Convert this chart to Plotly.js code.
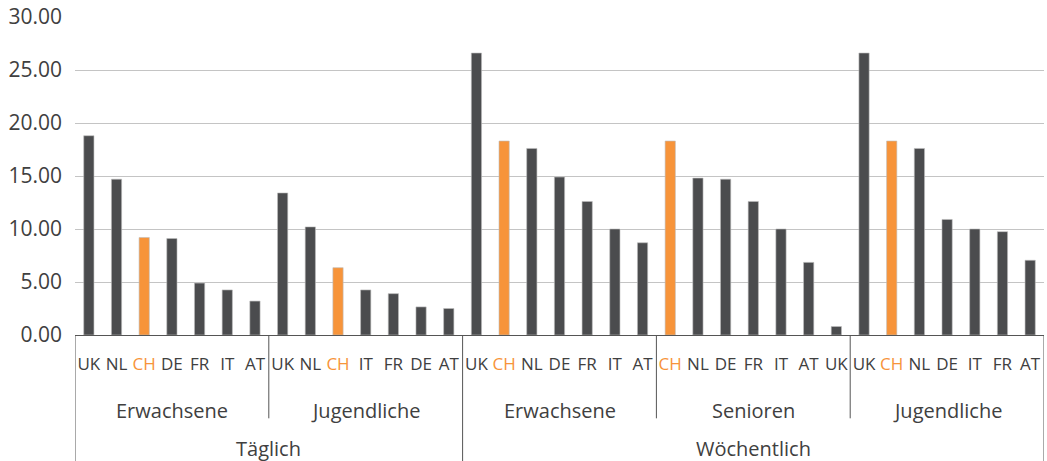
<!DOCTYPE html>
<html>
<head>
<meta charset="utf-8">
<script src="https://cdn.plot.ly/plotly-3.0.1.min.js"></script>
<style>
  html, body { margin: 0; padding: 0; background: #fff; }
  #chart { width: 1047px; height: 461px; }
</style>
</head>
<body>
<div id="chart"></div>
<script>
// data
const frequencies = ["Täglich", "Wöchentlich"];
const groups = ["Erwachsene", "Jugendliche", "Erwachsene", "Senioren", "Jugendliche"];
const groupFrequency = [0, 0, 1, 1, 1];

const countries = [
    ["UK", "NL", "CH", "DE", "FR", "IT", "AT"],
    ["UK", "NL", "CH", "IT", "FR", "DE", "AT"],
    ["UK", "CH", "NL", "DE", "FR", "IT", "AT"],
    ["CH", "NL", "DE", "FR", "IT", "AT", "UK"],
    ["UK", "CH", "NL", "DE", "IT", "FR", "AT"]
];

const values = [
    [18.8, 14.7, 9.2, 9.1, 4.9, 4.25, 3.2],
    [13.4, 10.2, 6.35, 4.25, 3.9, 2.65, 2.5],
    [26.6, 18.3, 17.6, 14.9, 12.6, 10.0, 8.7],
    [18.3, 14.8, 14.7, 12.6, 10.0, 6.85, 0.8],
    [26.6, 18.3, 17.6, 10.9, 10.0, 9.75, 7.05]
];

const yTicks = [0, 5, 10, 15, 20, 25, 30];

// colours
const dark = "#4b4c4e";
const orange = "#f7943a";
const textColor = "#404040";

// flatten groups into one numeric x axis
let xs = [], ys = [], colors = [], tickText = [];
let n = 0;
countries.forEach((list, g) => {
    list.forEach((c, i) => {
        xs.push(n);
        ys.push(values[g][i]);
        colors.push(c === "CH" ? orange : dark);
        tickText.push(c === "CH" ? `<span style="color:${orange}">CH</span>` : c);
        n++;
    });
});

const trace = {
    x: xs,
    y: ys,
    type: 'bar',
    width: 0.37,
    marker: { color: colors, line: { color: "#bdbdbd", width: 0.6 } },
    hoverinfo: 'y'
};

// group labels and divider lines under the axis
const annotations = [];
const shapes = [];
const size = countries[0].length;

groups.forEach((g, i) => {
    annotations.push({
        xref: 'x', yref: 'paper',
        x: i * size + (size - 1) / 2, y: -0.236,
        text: g, showarrow: false,
        font: { family: "Open Sans", size: 20, color: textColor },
        yanchor: 'middle'
    });
});

frequencies.forEach((f, k) => {
    const idx = groupFrequency.map((v, i) => v === k ? i : -1).filter(i => i >= 0);
    const first = idx[0] * size;
    const last = (idx[idx.length - 1] + 1) * size - 1;
    annotations.push({
        xref: 'x', yref: 'paper',
        x: (first + last) / 2, y: -0.357,
        text: f, showarrow: false,
        font: { family: "Open Sans", size: 20, color: textColor },
        yanchor: 'middle'
    });
});

for (let i = 0; i <= groups.length; i++) {
    const xPos = i * size - 0.5;
    let full = (i === 0 || i === groups.length);
    if (!full && groupFrequency[i] !== groupFrequency[i - 1]) full = true;
    shapes.push({
        type: 'line', xref: 'x', yref: 'paper',
        x0: xPos, x1: xPos, y0: 0, y1: full ? -0.40 : -0.262,
        line: { color: "#555555", width: 1 }
    });
}

const layout = {
    width: 1047,
    height: 461,
    margin: { l: 75, r: 3, t: 17, b: 126 },
    paper_bgcolor: "#ffffff",
    plot_bgcolor: "#ffffff",
    showlegend: false,
    bargap: 0,
    xaxis: {
        range: [-0.5, n - 0.5],
        tickmode: 'array',
        tickvals: xs,
        ticktext: tickText,
        ticks: '',
        showgrid: false,
        zeroline: false,
        showline: true,
        linecolor: "#555555",
        linewidth: 1,
        ticklabelstandoff: 14,
        tickfont: { family: "Open Sans", size: 17, color: textColor },
        fixedrange: true
    },
    yaxis: {
        range: [0, 30],
        tickmode: 'array',
        tickvals: yTicks,
        ticktext: yTicks.map(v => v.toFixed(2)),
        showgrid: true,
        gridcolor: "#c4c4c4",
        gridwidth: 1,
        zeroline: false,
        showline: false,
        ticks: '',
        ticklabelstandoff: 12,
        tickfont: { family: "Open Sans", size: 21, color: textColor },
        fixedrange: true
    },
    annotations: annotations,
    shapes: shapes
};

Plotly.newPlot('chart', [trace], layout, { displayModeBar: false, staticPlot: true });
</script>
</body>
</html>
